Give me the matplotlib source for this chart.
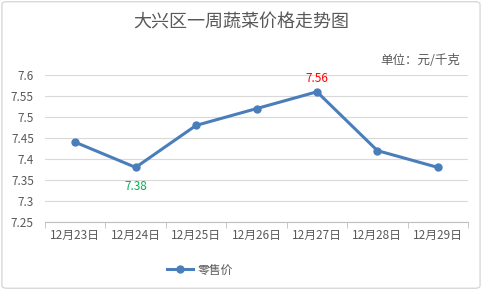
import matplotlib
matplotlib.use("Agg")
import matplotlib.pyplot as plt
from matplotlib.patches import FancyBboxPatch
import numpy as np

plt.rcParams['font.family'] = ['Noto Sans CJK SC', 'DejaVu Sans']

categories = ["12月23日", "12月24日", "12月25日", "12月26日", "12月27日", "12月28日", "12月29日"]
values = [7.44, 7.38, 7.48, 7.52, 7.56, 7.42, 7.38]
yticks = [7.25, 7.3, 7.35, 7.4, 7.45, 7.5, 7.55, 7.6]
ytick_labels = ["7.25", "7.3", "7.35", "7.4", "7.45", "7.5", "7.55", "7.6"]
series_name = "零售价"
title = "大兴区一周蔬菜价格走势图"
unit = "单位：元/千克"

grey = '#595959'
line_color = '#4a7ebb'

fig = plt.figure(figsize=(4.82, 2.90), dpi=100)
border = FancyBboxPatch((0.004, 0.006), 0.992, 0.988, boxstyle="round,pad=0,rounding_size=0.01",
                        transform=fig.transFigure, fill=False, edgecolor='#d9d9d9', linewidth=1)
fig.patches.append(border)

ax = fig.add_axes([45/482, 1-222/290, (468-45)/482, (222-75)/290])
x = np.arange(len(categories))
ax.plot(x, values, color=line_color, linewidth=2.2, marker='o', markersize=5, label=series_name)
ax.set_xlim(-0.5, len(categories)-0.5)
ax.set_ylim(7.25, 7.6)
ax.set_yticks(yticks)
ax.set_yticklabels(ytick_labels)
ax.set_xticks(x)
ax.set_xticklabels(categories)
ax.set_xticks(np.arange(-0.5, len(categories), 1), minor=True)
ax.tick_params(axis='x', which='major', length=0, pad=5, labelsize=8.5, labelcolor=grey)
ax.tick_params(axis='x', which='minor', length=4, color='#bfbfbf', direction='out')
ax.tick_params(axis='y', length=0, pad=8, labelsize=8.5, labelcolor=grey)
ax.grid(axis='y', color='#d9d9d9', linewidth=0.8)
ax.set_axisbelow(True)
for s in ['top', 'right', 'left']:
    ax.spines[s].set_visible(False)
ax.spines['bottom'].set_color('#bfbfbf')
ax.spines['bottom'].set_linewidth(0.8)

ax.annotate(f"{values[1]:.2f}", (x[1], values[1]), xytext=(0, -9), textcoords='offset points',
            ha='center', va='top', color='#00b050', fontsize=8.5)
ax.annotate(f"{values[4]:.2f}", (x[4], values[4]), xytext=(0, 5), textcoords='offset points',
            ha='center', va='bottom', color='#ff0000', fontsize=8.5)

fig.text(0.5, 1-22/290, title, ha='center', va='center', fontsize=13, color=grey)
fig.text(460/482, 1-60/290, unit, ha='right', va='center', fontsize=9, color=grey)

leg = ax.legend(loc='center', bbox_to_anchor=((200-45)/423, (222-270)/147), frameon=False,
                fontsize=8.5, labelcolor=grey, handlelength=2.2, handletextpad=0.4)

fig.savefig("out.png", dpi=100)
